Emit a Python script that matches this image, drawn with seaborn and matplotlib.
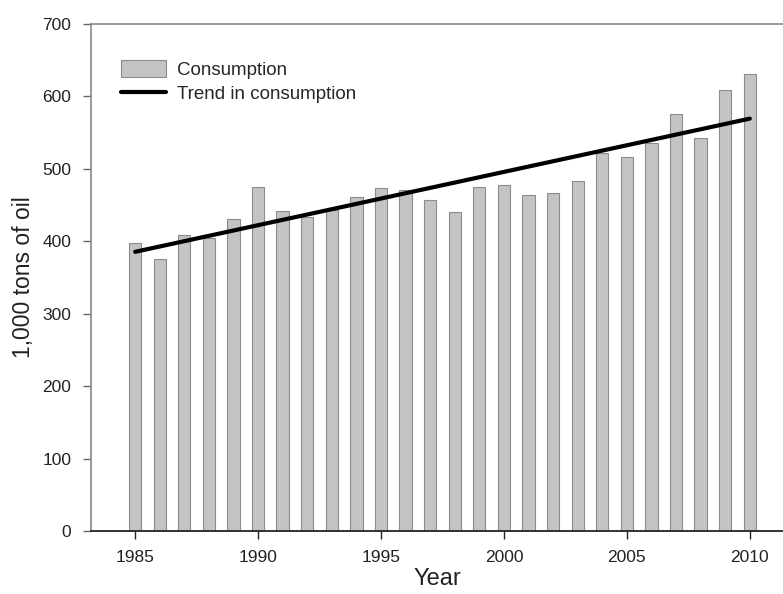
import numpy as np
import pandas as pd
import matplotlib
matplotlib.use("Agg")
import matplotlib.pyplot as plt
import seaborn as sns

sns.set_style("white")
plt.rcParams['font.family'] = ['Liberation Sans', 'DejaVu Sans']

# data
years = list(range(1985, 2011))
consumption = [398, 375, 409, 405, 430, 475, 441, 433, 443, 461, 473, 470, 457,
               440, 475, 477, 464, 467, 483, 521, 516, 536, 576, 543, 609, 630]

df = pd.DataFrame({"Year": years, "Consumption": consumption})

# linear trend of the consumption series
slope, icept = np.polyfit(df["Year"], df["Consumption"], 1)
df["Trend"] = slope * df["Year"] + icept

fig = plt.figure(figsize=(7.83, 5.94), dpi=100)
ax = fig.add_axes([0.116, 0.106, 0.884, 0.854])

sns.barplot(data=df, x="Year", y="Consumption", native_scale=True, width=0.5,
            color="#c4c4c4", edgecolor="#8c8c8c", linewidth=0.8,
            saturation=1, label="Consumption", ax=ax)
sns.lineplot(data=df, x="Year", y="Trend", color="black", linewidth=3,
             label="Trend in consumption", ax=ax)

ax.set_xlim(1983.2, 2011.35)
ax.set_ylim(0, 700)
ax.set_xticks(range(1985, 2011, 5))
ax.set_yticks(range(0, 701, 100))
ax.tick_params(axis="both", direction="out", length=6, width=1, colors="#222",
               labelsize=12.5, bottom=True, left=True)
ax.tick_params(axis="y", pad=8, color="#666")
ax.tick_params(axis="x", pad=8)

for s in ["top", "left"]:
    ax.spines[s].set_color("#888888")
    ax.spines[s].set_linewidth(1.2)
ax.spines["right"].set_visible(False)
ax.spines["bottom"].set_color("#222222")
ax.spines["bottom"].set_linewidth(1.3)

ax.set_xlabel("Year", fontsize=17, color="#222", labelpad=2)
ax.set_ylabel("1,000 tons of oil", fontsize=16.5, color="#222", labelpad=5)

# bars first, then the trend line, as in the reference
h, l = ax.get_legend_handles_labels()
order = [l.index("Consumption"), l.index("Trend in consumption")]
ax.legend([h[i] for i in order], [l[i] for i in order], loc="upper left",
          frameon=False, fontsize=13.5, handlelength=2.4, handleheight=1.0,
          handletextpad=0.6, labelspacing=0.3, borderaxespad=0,
          bbox_to_anchor=(0.033, 0.943))

fig.savefig("out.png", dpi=100)
